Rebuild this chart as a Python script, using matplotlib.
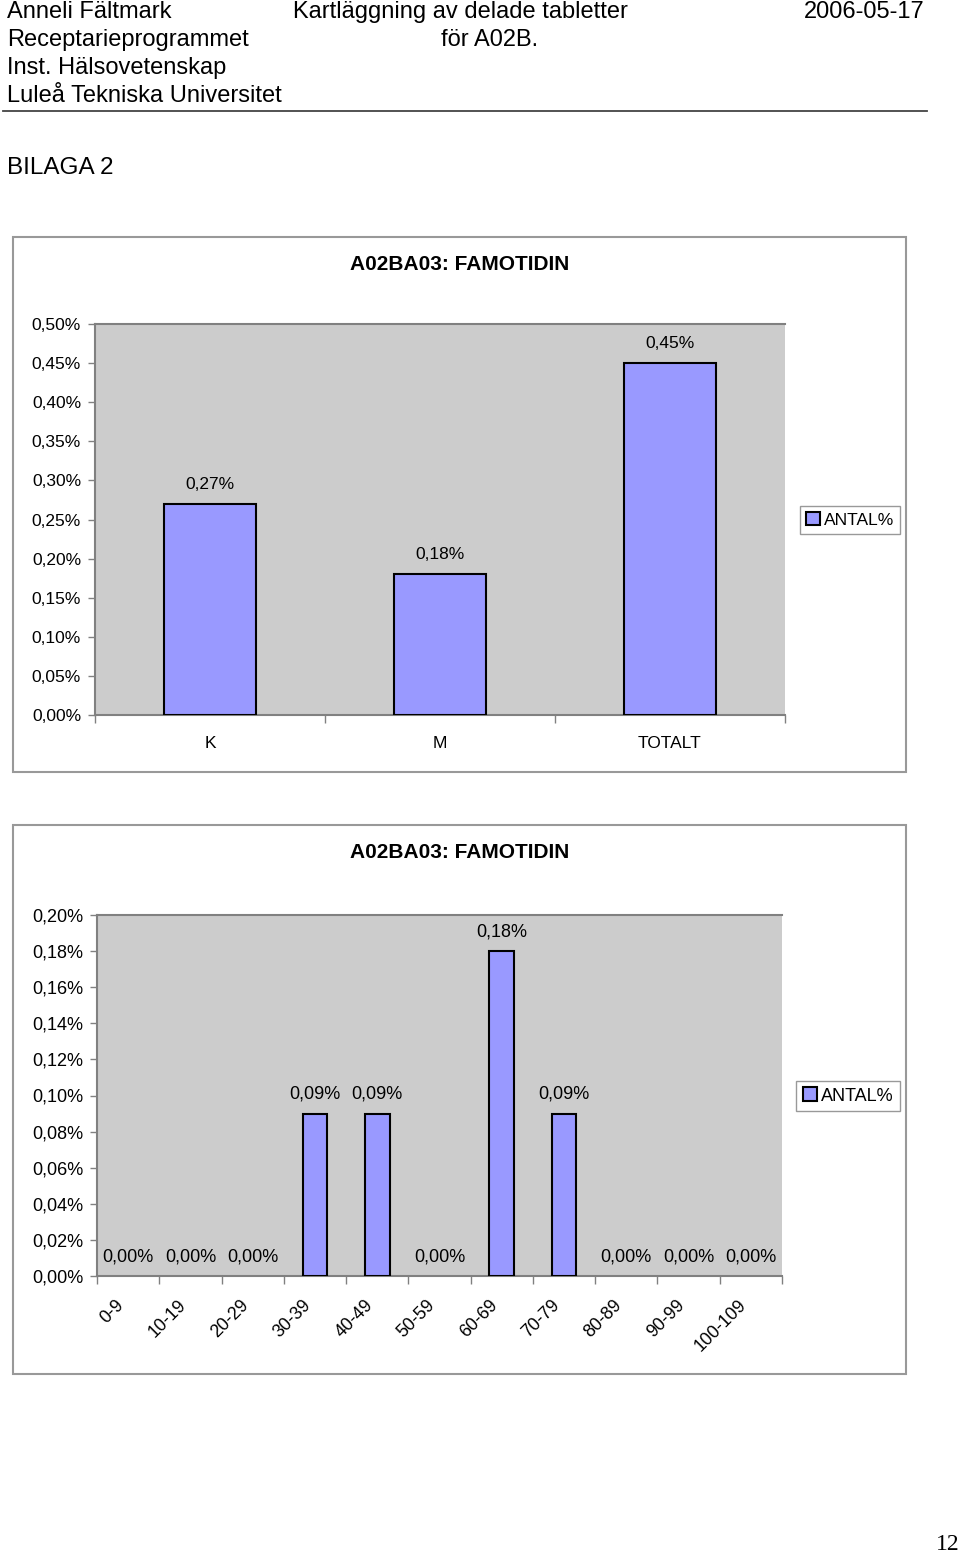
import matplotlib
matplotlib.use("Agg")
import matplotlib.pyplot as plt
from matplotlib.patches import Rectangle, Patch
from matplotlib.lines import Line2D

plt.rcParams['font.family'] = ['Liberation Sans', 'DejaVu Sans']

# data
kon_kategorier = ["K", "M", "TOTALT"]
kon_antal = [0.27, 0.18, 0.45]

alder_kategorier = ["0-9", "10-19", "20-29", "30-39", "40-49", "50-59",
                    "60-69", "70-79", "80-89", "90-99", "100-109"]
alder_antal = [0.00, 0.00, 0.00, 0.09, 0.09, 0.00, 0.18, 0.09, 0.00, 0.00, 0.00]

titel = "A02BA03: FAMOTIDIN"
serie = "ANTAL%"

W, H = 960, 1556
fig = plt.figure(figsize=(W / 100, H / 100), dpi=100)


def rect(x0, y0, x1, y1):
    # pixlar (uppifrån) -> figurkoordinater
    return [x0 / W, 1 - y1 / H, (x1 - x0) / W, (y1 - y0) / H]


def ftext(x, y, s, **kw):
    fig.text(x / W, 1 - y / H, s, **kw)


def pct(v):
    return f"{v:.2f}%".replace(".", ",")


# sidhuvud
ftext(7, 12, "Anneli Fältmark", fontsize=17, va="center")
ftext(7, 40, "Receptarieprogrammet", fontsize=17, va="center")
ftext(7, 68, "Inst. Hälsovetenskap", fontsize=17, va="center")
ftext(7, 96, "Luleå Tekniska Universitet", fontsize=17, va="center")
ftext(293, 12, "Kartläggning av delade tabletter", fontsize=17, va="center")
ftext(441, 40, "för A02B.", fontsize=17, va="center")
ftext(925, 12, "2006-05-17", fontsize=17, va="center", ha="right")
fig.add_artist(Line2D([3 / W, 927 / W], [1 - 111 / H, 1 - 111 / H],
                      color="#444444", lw=1.3))
ftext(7, 168, "BILAGA 2", fontsize=17.5, va="center")
ftext(948, 1545, "12", fontsize=17, va="center", ha="center",
      family=["Liberation Serif", "DejaVu Serif"])


def rita(box, area, kategorier, varden, ymax, ysteg, titel_y, leg_xy,
         fs, rot=False):
    r = rect(*box)
    fig.add_artist(Rectangle((r[0], r[1]), r[2], r[3], transform=fig.transFigure,
                             facecolor="white", edgecolor="#999999", lw=1.5,
                             zorder=-1))
    ftext(box[0] + (box[2] - box[0]) / 2, titel_y, titel, fontsize=15,
          fontweight="bold", ha="center", va="center")
    ax = fig.add_axes(rect(*area))
    ax.set_facecolor("#CCCCCC")
    n = len(kategorier)
    x = list(range(n))
    staplar = ax.bar(x, varden, width=0.4, color="#9999FF", edgecolor="black",
                     lw=1.5, zorder=3)
    for st, v in zip(staplar, varden):
        if v == 0:
            st.set_linewidth(0)   # nollstaplar syns inte
    for xi, v in zip(x, varden):
        ax.annotate(pct(v), (xi, v), xytext=(0, 14), textcoords="offset points",
                    ha="center", va="center", fontsize=fs)
    ax.set_xlim(-0.5, n - 0.5)
    ax.set_ylim(0, ymax)
    yt = [i * ysteg for i in range(int(round(ymax / ysteg)) + 1)]
    ax.set_yticks(yt)
    ax.set_yticklabels([pct(v) for v in yt], fontsize=fs)
    ax.tick_params(axis="y", length=5, width=1, color="#808080", pad=5)
    ax.set_xticks(x)
    if rot:
        # snedställda etiketter, lite till vänster om kategorins mitt
        ax.set_xticklabels([])
        ax.tick_params(axis="x", length=0)
        for xi, k in zip(x, kategorier):
            ax.annotate(k, (xi, 0), xytext=(-5, -19), textcoords="offset points",
                        rotation=45, ha="right", va="center",
                        rotation_mode="anchor", fontsize=12.8,
                        annotation_clip=False)
    else:
        ax.set_xticklabels(kategorier, fontsize=fs)
        ax.tick_params(axis="x", length=0, pad=15)
    ax.set_xticks([i - 0.5 for i in range(n + 1)], minor=True)
    ax.tick_params(axis="x", which="minor", length=6, width=1, color="#808080")
    for s in ["left", "bottom", "top"]:
        ax.spines[s].set_color("#808080")
        ax.spines[s].set_linewidth(1.5)
    ax.spines["right"].set_visible(False)
    handtag = [Patch(facecolor="#9999FF", edgecolor="black", lw=1.5, label=serie)]
    leg = ax.legend(handles=handtag, loc="center",
                    bbox_to_anchor=(leg_xy[0] / W, 1 - leg_xy[1] / H),
                    bbox_transform=fig.transFigure, fontsize=fs, fancybox=False,
                    framealpha=1, edgecolor="#999999", handlelength=0.8,
                    handleheight=0.8, handletextpad=0.2, borderpad=0.35,
                    borderaxespad=0)
    leg.get_frame().set_linewidth(1)
    return ax


rita((13, 237, 906, 772), (95, 324, 785, 715), kon_kategorier, kon_antal,
     0.5, 0.05, 265, (850, 520), 12.5)
rita((13, 825, 906, 1374), (97, 915, 782, 1276), alder_kategorier, alder_antal,
     0.2, 0.02, 853, (848, 1096), 13, rot=True)

fig.savefig("out.png", dpi=100)
